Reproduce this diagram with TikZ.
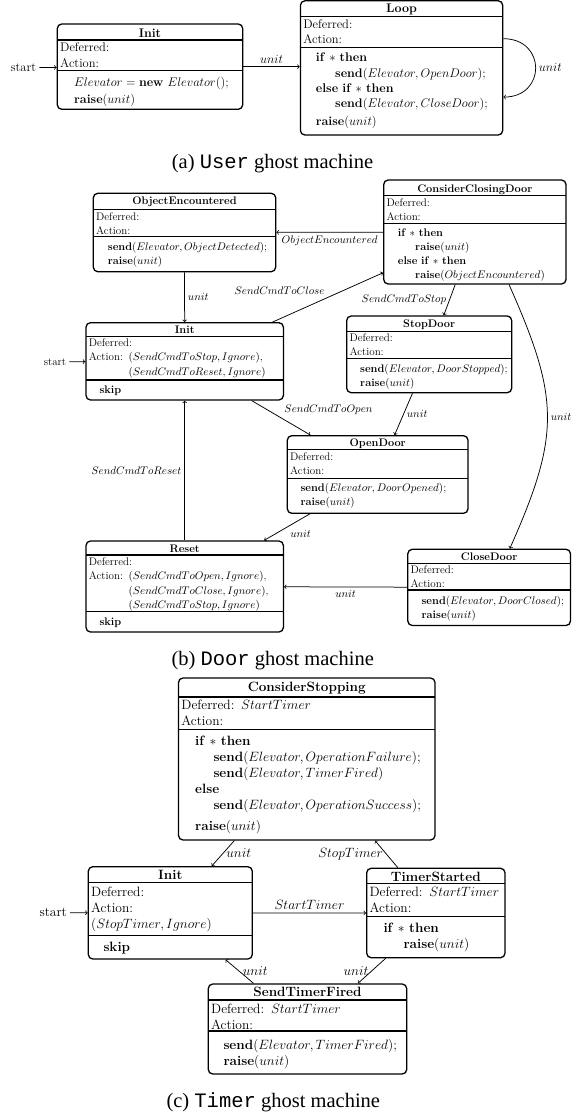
\RequirePackage{fix-cm}
\documentclass[tikz,border=0pt]{standalone}
\usepackage{amsmath}
\usepackage{fontspec}
\newfontfamily\capfont{Liberation Serif}
\newfontfamily\capmono{Liberation Mono}

\begin{document}
\begin{tikzpicture}[x=1pt,y=1pt,yscale=-1,xscale=1,
	box/.style={draw, line width=1.3pt, rounded corners=4.5pt},
	sepline/.style={line width=1.3pt},
	ttl/.style={anchor=base, inner sep=0pt},
	txt/.style={anchor=base west, inner sep=0pt, text width=300pt, align=left},
	arr/.style={->, line width=0.75pt},
	lbl/.style={inner sep=3pt},
	capt/.style={anchor=base, inner sep=0pt, font=\fontsize{20.5}{24}\capfont}]
		\useasboundingbox (0,0) rectangle (572,1118);
		% (a) User
		\begin{scope}[font=\fontsize{12.5}{15.3}\selectfont]
		\node[box, minimum width=185.4pt, minimum height=85.3pt] (ainit) at (150,66.65) {};
		\draw[sepline] (57.3,40) -- (242.7,40);
		\draw[sepline] (57.3,70.7) -- (242.7,70.7);
		\node[ttl] (ainit-ttl) at (150,37.7) {\textbf{Init}};
		\node[txt] (ainit-def) at (60,52) {Deferred:\\Action:};
		\node[txt] (ainit-code) at (74,86.5) {$Elevator = \textbf{new}\ Elevator()$;\\[1.3pt]\textbf{raise}$(unit)$};
		\node[box, minimum width=202.3pt, minimum height=134.2pt] (aloop) at (401.55,67.9) {};
		\draw[sepline] (300.4,16.7) -- (502.7,16.7);
		\draw[sepline] (300.4,47.7) -- (502.7,47.7);
		\node[ttl] (aloop-ttl) at (401.55,12.7) {\textbf{Loop}};
		\node[txt] (aloop-def) at (303.1,28.7) {Deferred:\\Action:};
		\node[txt] (aloop-code) at (315.7,62) {\textbf{if} $\ast$ \textbf{then}\\
			\hspace*{19.3pt}\textbf{send}$(Elevator, OpenDoor)$;\\
			\textbf{else if} $\ast$ \textbf{then}\\
			\hspace*{19.3pt}\textbf{send}$(Elevator, CloseDoor)$;\\[2.3pt]
			\textbf{raise}$(unit)$};
		\node[anchor=east, inner sep=3pt] (astart) at (39.3,67.7) {start};
		\draw[arr] (astart) -- (ainit);
		\draw[arr] (ainit.east) -- (ainit.east -| aloop.west) node[midway, above, lbl] {$unit$};
		\draw[arr] (aloop.16) .. controls +(43,0) and +(43,0) .. (aloop.-16) node[midway, right, lbl] {$unit$};
		\end{scope}
		\node[capt] (capa) at (272.5,168.5) {(a) {\capmono User} ghost machine};
		% (b) Door
		\begin{scope}[font=\fontsize{11}{14.3}\selectfont]
		\node[box, minimum width=182.4pt, minimum height=78.4pt] (bobject) at (184.5,232.5) {};
		\draw[sepline] (93.3,209.3) -- (275.7,209.3);
		\draw[sepline] (93.3,236.7) -- (275.7,236.7);
		\node[ttl] (bobject-ttl) at (184.5,204.5) {\textbf{ObjectEncountered}};
		\node[txt] (bobject-def) at (96,220) {Deferred:\\Action:};
		\node[txt] (bobject-code) at (107.7,250) {\textbf{send}$(Elevator, ObjectDetected)$;\\\textbf{raise}$(unit)$};
		\node[box, minimum width=182.3pt, minimum height=104pt] (bconsider) at (474.85,232) {};
		\draw[sepline] (383.7,195.5) -- (566,195.5);
		\draw[sepline] (383.7,223.3) -- (566,223.3);
		\node[ttl] (bconsider-ttl) at (474.85,192.2) {\textbf{ConsiderClosingDoor}};
		\node[txt] (bconsider-def) at (386.4,206.3) {Deferred:\\Action:};
		\node[txt] (bconsider-code) at (397.7,236) {\textbf{if} $\ast$ \textbf{then}\\
			\hspace*{17.3pt}\textbf{raise}$(unit)$\\
			\textbf{else if} $\ast$ \textbf{then}\\
			\hspace*{17.3pt}\textbf{raise}$(ObjectEncountered)$};
		\node[box, minimum width=197.4pt, minimum height=77.3pt] (binit) at (184.7,361.35) {};
		\draw[sepline] (86,336.7) -- (283.4,336.7);
		\draw[sepline] (86,380) -- (283.4,380);
		\node[ttl] (binit-ttl) at (184.7,333.2) {\textbf{Init}};
		\node[txt] (binit-def) at (88.7,346.6) {Deferred:\\
			Action:\enspace$(SendCmdToStop, Ignore)$,\\
			\hphantom{Action:\enspace}$(SendCmdToReset, Ignore)$};
		\node[txt] (binit-code) at (99.3,393.3) {\textbf{skip}};
		\node[box, minimum width=165pt, minimum height=76.7pt] (bstop) at (429.2,354.35) {};
		\draw[sepline] (346.7,331.7) -- (511.7,331.7);
		\draw[sepline] (346.7,358.3) -- (511.7,358.3);
		\node[ttl] (bstop-ttl) at (429.2,327.4) {\textbf{StopDoor}};
		\node[txt] (bstop-def) at (349.4,341.6) {Deferred:\\Action:};
		\node[txt] (bstop-code) at (360,372) {\textbf{send}$(Elevator, DoorStopped)$;\\\textbf{raise}$(unit)$};
		\node[box, minimum width=180.7pt, minimum height=77.6pt] (bopen) at (377.65,474.5) {};
		\draw[sepline] (287.3,449.3) -- (468,449.3);
		\draw[sepline] (287.3,478.3) -- (468,478.3);
		\node[ttl] (bopen-ttl) at (377.65,446.6) {\textbf{OpenDoor}};
		\node[txt] (bopen-def) at (290,460) {Deferred:\\Action:};
		\node[txt] (bopen-code) at (300.3,491.6) {\textbf{send}$(Elevator, DoorOpened)$;\\\textbf{raise}$(unit)$};
		\node[box, minimum width=197.4pt, minimum height=91pt] (breset) at (184.7,586.5) {};
		\draw[sepline] (86,555) -- (283.4,555);
		\draw[sepline] (86,611.7) -- (283.4,611.7);
		\node[ttl] (breset-ttl) at (184.7,552.2) {\textbf{Reset}};
		\node[txt] (breset-def) at (88.7,565.6) {Deferred:\\
			Action:\enspace$(SendCmdToOpen, Ignore)$,\\
			\hphantom{Action:\enspace}$(SendCmdToClose, Ignore)$,\\
			\hphantom{Action:\enspace}$(SendCmdToStop, Ignore)$};
		\node[txt] (breset-code) at (99.3,625.3) {\textbf{skip}};
		\node[box, minimum width=162.7pt, minimum height=76.2pt] (bclose) at (489.15,587.4) {};
		\draw[sepline] (407.8,563.3) -- (570.5,563.3);
		\draw[sepline] (407.8,590) -- (570.5,590);
		\node[ttl] (bclose-ttl) at (489.15,560.6) {\textbf{CloseDoor}};
		\node[txt] (bclose-def) at (410.5,573.6) {Deferred:\\Action:};
		\node[txt] (bclose-code) at (421.4,604) {\textbf{send}$(Elevator, DoorClosed)$;\\\textbf{raise}$(unit)$};
		\node[anchor=east, inner sep=3pt] (bstart) at (69.3,361.7) {start};
		\draw[arr] (bstart) -- (binit);
		\draw[arr] (bconsider) -- (bobject) node[midway, below, lbl] {$ObjectEncountered$};
		\draw[arr] (bobject) -- (binit) node[midway, right, lbl] {$unit$};
		\draw[arr] (binit) -- (bconsider) node[midway, above left, lbl] {$SendCmdToClose$};
		\draw[arr] (bconsider) -- (bstop) node[midway, left, lbl] {$SendCmdToStop$};
		\draw[arr] (bstop) -- (bopen) node[midway, right, lbl] {$unit$};
		\draw[arr] (binit) -- (bopen) node[midway, above right, lbl] {$SendCmdToOpen$};
		\draw[arr] (bopen) -- (breset) node[midway, below right, lbl] {$unit$};
		\draw[arr] (breset) -- (binit) node[midway, left, lbl] {$SendCmdToReset$};
		\draw[arr] (bconsider.-57) .. controls +(50.7,113.8) and +(50.7,-113.8) .. (bclose.62) node[midway, right, lbl] {$unit$};
		\draw[arr] (bclose) -- (breset) node[midway, below, lbl] {$unit$};
		\end{scope}
		\node[capt] (capb) at (272.7,665.8) {(b) {\capmono Door} ghost machine};
		% (c) Timer
		\begin{scope}[font=\fontsize{13.5}{16}\selectfont]
		\node[box, minimum width=256.5pt, minimum height=162pt] (cconsider) at (306.75,759) {};
		\draw[sepline] (178.5,697) -- (435,697);
		\draw[sepline] (178.5,729.3) -- (435,729.3);
		\node[ttl] (cconsider-ttl) at (306.75,691.5) {\textbf{ConsiderStopping}};
		\node[txt] (cconsider-def) at (181.2,709.8) {Deferred:\enspace$StartTimer$\\Action:};
		\node[txt] (cconsider-code) at (195,745.7) {\textbf{if} $\ast$ \textbf{then}\\
			\hspace*{18.3pt}\textbf{send}$(Elevator, OperationFailure)$;\\
			\hspace*{18.3pt}\textbf{send}$(Elevator, TimerFired)$\\
			\textbf{else}\\
			\hspace*{18.3pt}\textbf{send}$(Elevator, OperationSuccess)$;\\[4.3pt]
			\textbf{raise}$(unit)$};
		\node[box, minimum width=164pt, minimum height=92.3pt] (cinit) at (170.3,912.85) {};
		\draw[sepline] (88.3,882.7) -- (252.3,882.7);
		\draw[sepline] (88.3,935.7) -- (252.3,935.7);
		\node[ttl] (cinit-ttl) at (170.3,879.3) {\textbf{Init}};
		\node[txt] (cinit-def) at (91,896.7) {Deferred:\\Action:\\$(StopTimer, Ignore)$};
		\node[txt] (cinit-code) at (103.3,951.7) {\textbf{skip}};
		\node[box, minimum width=138.3pt, minimum height=89.4pt] (cstarted) at (435.85,913) {};
		\draw[sepline] (366.7,883.3) -- (505,883.3);
		\draw[sepline] (366.7,916.7) -- (505,916.7);
		\node[ttl] (cstarted-ttl) at (435.85,881) {\textbf{TimerStarted}};
		\node[txt] (cstarted-def) at (369.4,896.7) {Deferred:\enspace$StartTimer$\\Action:};
		\node[txt] (cstarted-code) at (383.3,932.3) {\textbf{if} $\ast$ \textbf{then}\\
			\hspace*{20pt}\textbf{raise}$(unit)$};
		\node[box, minimum width=198.4pt, minimum height=90pt] (cfired) at (307.5,1029) {};
		\draw[sepline] (208.3,1000) -- (406.7,1000);
		\draw[sepline] (208.3,1031) -- (406.7,1031);
		\node[ttl] (cfired-ttl) at (307.5,996.5) {\textbf{SendTimerFired}};
		\node[txt] (cfired-def) at (211,1013.3) {Deferred:\enspace$StartTimer$\\Action:};
		\node[txt] (cfired-code) at (223.3,1049) {\textbf{send}$(Elevator, TimerFired)$;\\\textbf{raise}$(unit)$};
		\node[anchor=east, inner sep=3pt] (cstart) at (70,912.7) {start};
		\draw[arr] (cstart) -- (cinit);
		\draw[arr] (cconsider) -- (cinit) node[midway, right, lbl] {$unit$};
		\draw[arr] (cinit) -- (cstarted) node[midway, above, lbl] {$StartTimer$};
		\draw[arr] (cstarted) -- (cconsider) node[midway, left, lbl] {$StopTimer$};
		\draw[arr] (cstarted) -- (cfired) node[midway, left, lbl] {$unit$};
		\draw[arr] (cfired) -- (cinit) node[midway, right, lbl] {$unit$};
		\end{scope}
		\node[capt] (capc) at (273.3,1107.5) {(c) {\capmono Timer} ghost machine};
\end{tikzpicture}
\end{document}
